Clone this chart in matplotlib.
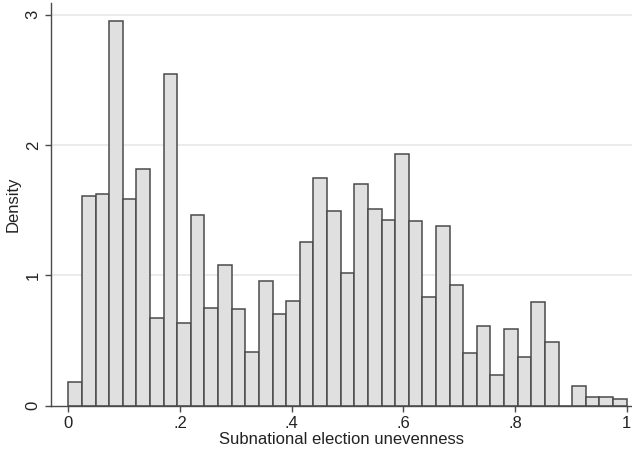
import numpy as np
import matplotlib
matplotlib.use("Agg")
import matplotlib.pyplot as plt

# histogram density per bin (41 equal bins between 0 and 1)
density = [0.183, 1.61, 1.625, 2.954, 1.584, 1.813, 0.675, 2.547, 0.632, 1.462,
           0.752, 1.077, 0.741, 0.413, 0.955, 0.706, 0.807, 1.253, 1.745, 1.497,
           1.019, 1.701, 1.513, 1.426, 1.928, 1.421, 0.836, 1.38, 0.924, 0.408,
           0.611, 0.235, 0.591, 0.37, 0.798, 0.492, 0.0, 0.153, 0.064, 0.064,
           0.049]
x_ticks = [0, 0.2, 0.4, 0.6, 0.8, 1.0]
x_tick_labels = ["0", ".2", ".4", ".6", ".8", "1"]
y_ticks = [0, 1, 2, 3]
y_tick_labels = ["0", "1", "2", "3"]

plt.rcParams['font.family'] = ['Liberation Sans', 'DejaVu Sans']

edges = np.linspace(0, 1, len(density) + 1)

fig = plt.figure(figsize=(6.32, 4.57), dpi=100)
ax = fig.add_axes([0.0802, 0.1123, 0.9198, 0.8811])

# light horizontal grid like Stata
for y in y_ticks[1:]:
    ax.axhline(y, color="#ebebeb", linewidth=1.4, zorder=0)

ax.bar(edges[:-1], density, width=np.diff(edges), align="edge",
       color="#e0e0e0", edgecolor="#4a4a4a", linewidth=1.1, zorder=2)

ax.set_xlim(-0.0315, 1.0095)
ax.set_ylim(0, 3.09)

ax.set_xticks(x_ticks)
ax.set_xticklabels(x_tick_labels)
ax.set_yticks(y_ticks)
ax.set_yticklabels(y_tick_labels, rotation=90, va="center")

ax.tick_params(axis="both", direction="out", length=4.2, width=1.0,
               color="#4a4a4a", labelsize=12, labelcolor="#222222", pad=3)

ax.set_xlabel("Subnational election unevenness", fontsize=12,
              color="#222222", labelpad=1)
ax.set_ylabel("Density", fontsize=12, color="#222222", labelpad=4)

for side in ["top", "right"]:
    ax.spines[side].set_visible(False)
for side in ["left", "bottom"]:
    ax.spines[side].set_color("#4a4a4a")
    ax.spines[side].set_linewidth(1.0)

fig.savefig("out.png", dpi=100)
